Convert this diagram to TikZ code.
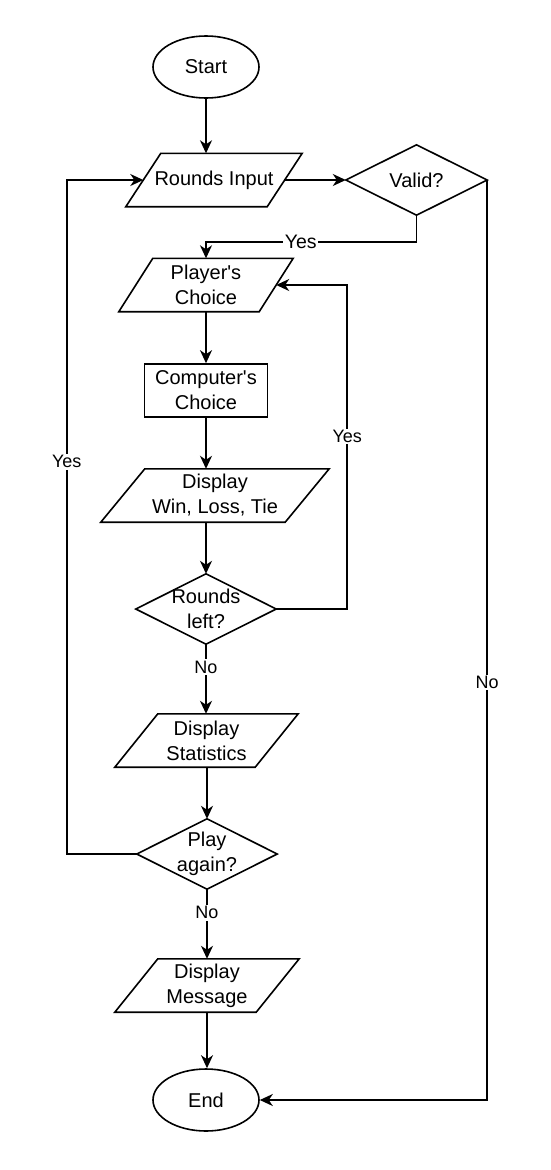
\documentclass[tikz,border=0pt]{standalone}
\usepackage{fontspec}
\setmainfont{Liberation Sans}
\usetikzlibrary{arrows.meta,shapes.geometric}
\newcommand{\parapath}[2]{\draw[shapeline] ([xshift=#2]#1.north west) -- (#1.north east) -- ([xshift=-#2]#1.south east) -- (#1.south west) -- cycle;}
\newcommand{\diapath}[1]{\draw[shapeline] (#1.north) -- (#1.east) -- (#1.south) -- (#1.west) -- cycle;}
\begin{document}
\begin{tikzpicture}[x=1pt,y=-1pt,
  shapeline/.style={line width=1.6pt, line join=miter},
  conn/.style={line width=1.6pt, -{Stealth[length=13pt,width=12pt,inset=4pt]}},
  box/.style={inner sep=0pt, align=center, font=\fontsize{20}{25}\selectfont, minimum height=53pt},
  term/.style={box, ellipse, draw, line width=1.6pt, minimum width=106pt, minimum height=62pt},
  lbl/.style={fill=white, inner sep=1.5pt, font=\fontsize{18}{21}\selectfont},
  biglbl/.style={lbl, font=\fontsize{19.5}{24}\selectfont},
]
\fill[white] (0,0) rectangle (550,1170);
\useasboundingbox (0,0) rectangle (550,1170);

\node[term] (start) at (206,67) {Start};
\node[box, minimum width=176pt] (ri) at (214,180) {Rounds Input};
\parapath{ri}{35pt}
\coordinate (ri-l) at ([xshift=17.5pt]ri.west);
\coordinate (ri-r) at ([xshift=-17.5pt]ri.east);
\node[box, minimum width=141pt, minimum height=70pt] (valid) at (416.5,180) {Valid?};
\diapath{valid}
\node[box, minimum width=174pt] (pc) at (206,285) {Player\textquotesingle s\\Choice};
\parapath{pc}{34pt}
\coordinate (pc-r) at ([xshift=-17pt]pc.east);
\node[box, draw, line width=1.6pt, minimum width=123pt] (cc) at (206,390.5) {Computer\textquotesingle s\\Choice};
\node[box, minimum width=228pt] (dw) at (215,495.5) {Display\\Win, Loss, Tie};
\parapath{dw}{44pt}
\node[box, minimum width=140pt, minimum height=70pt] (rl) at (206,609) {Rounds\\left?};
\diapath{rl}
\node[box, minimum width=183pt] (ds) at (206.5,740.5) {Display\\Statistics};
\parapath{ds}{43pt}
\node[box, minimum width=140pt, minimum height=70pt] (pa) at (207,854) {Play\\again?};
\diapath{pa}
\node[box, minimum width=184pt] (dm) at (207,985.5) {Display\\Message};
\parapath{dm}{43pt}
\node[term] (end) at (206,1100) {End};

\draw[conn] (start) -- (start |- ri.north);
\draw[conn] (ri-r) -- (valid.west);
\draw[conn] (valid.south) -- ++(0,27) -| node[biglbl,pos=0.275]{Yes} (pc.north);
\draw[conn] (pc.south) -- (pc.south |- cc.north);
\draw[conn] (cc.south) -- (cc.south |- dw.north);
\draw[conn] (rl.north |- dw.south) -- (rl.north);
\draw[conn] (rl.south) -- node[lbl,pos=0.33]{No} (rl.south |- ds.north);
\draw[conn] (rl.east) -- ++(71,0) |- node[lbl,pos=0.266]{Yes} (pc-r);
\draw[conn] (pa.north |- ds.south) -- (pa.north);
\draw[conn] (pa.west) -- ++(-70,0) |- node[lbl,pos=0.291]{Yes} (ri-l);
\draw[conn] (pa.south) -- node[lbl,pos=0.34]{No} (pa.south |- dm.north);
\draw[conn] (dm.south) -- (dm.south |- end.north);
\draw[conn] (valid.east) |- node[lbl,pos=0.273]{No} (end.east);
\end{tikzpicture}
\end{document}
